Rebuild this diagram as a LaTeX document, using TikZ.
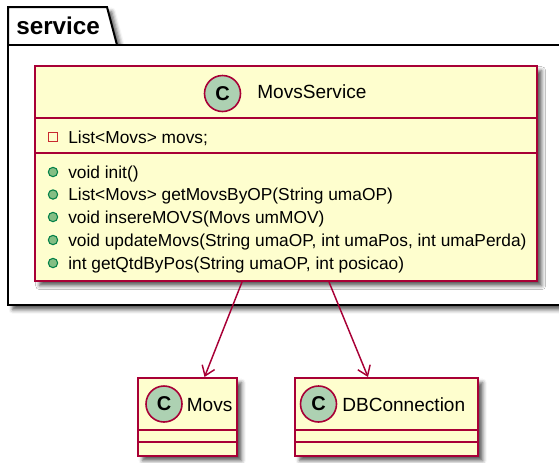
\documentclass[tikz,border=0pt]{standalone}
\usepackage{fontspec}
\setmainfont{Liberation Sans}
\usetikzlibrary{arrows.meta,shadows.blur,calc}

\definecolor{classfill}{HTML}{FEFECE}
\definecolor{classline}{HTML}{A80036}
\definecolor{spotfill}{HTML}{ADD1B2}
\definecolor{pubfill}{HTML}{84BE84}
\definecolor{publine}{HTML}{038048}
\definecolor{privline}{HTML}{C82930}

\begin{document}
\begin{tikzpicture}[x=0.75pt,y=-0.75pt,
  softshadow/.style={blur shadow={shadow xshift=3.5pt, shadow yshift=-3.5pt,
      shadow blur radius=3pt, shadow opacity=65}},
  pkg/.style={draw=black, fill=white, line width=1.5pt, line join=miter, softshadow},
  classbox/.style={draw=classline, fill=classfill, line width=1.5pt,
      inner sep=0pt, softshadow},
  sep/.style={draw=classline, line width=1.5pt},
  spot/.style={circle, draw=classline, fill=spotfill, line width=1.2pt,
      minimum size=27pt, inner sep=0pt, font=\fontsize{15}{15}\selectfont\bfseries},
  cname/.style={anchor=base west, inner sep=0pt, font=\fontsize{14.3}{16}\selectfont},
  member/.style={anchor=base west, inner sep=0pt, font=\fontsize{13}{15}\selectfont},
  pubicon/.style={circle, draw=publine, fill=pubfill, line width=0.8pt,
      minimum size=7pt, inner sep=0pt},
  privicon/.style={rectangle, draw=privline, line width=0.9pt,
      minimum size=6.5pt, inner sep=0pt},
  dep/.style={draw=classline, line width=1.1pt,
      -{Straight Barb[length=7pt,width=10pt,line width=1.1pt]}}
]
\useasboundingbox (0,0) rectangle (559,462);
\clip (0,0) rectangle (559,462);

% package "service"
\path[pkg] (8,45) -- (8,7) -- (107,7) -- (117,45) -- cycle;
\path[pkg] (8,45) rectangle (570,305);
\node[anchor=base west, inner sep=0pt, font=\fontsize{18.2}{20}\selectfont\bfseries]
  (pkgname) at (16,34) {service};

% class MovsService
\node[classbox, minimum width=376.5pt, minimum height=161.25pt]
  (svc) at (286,173.5) {};
\draw[sep] (svc.west |- 0,118) -- (svc.east |- 0,118);
\draw[sep] (svc.west |- 0,153) -- (svc.east |- 0,153);
\node[spot] (svcspot) at (222.5,93.5) {C};
\node[cname] (svcname) at (257,98.5) {MovsService};

\node[privicon] (a1i) at (53,137) {};
\node[member] (a1) at (68,143) {List<Movs> movs;};

\node[pubicon] (m1i) at (53,172) {};
\node[member] (m1) at (68,178) {void init()};
\node[pubicon] (m2i) at (53,194.5) {};
\node[member] (m2) at (68,200.5) {List<Movs> getMovsByOP(String umaOP)};
\node[pubicon] (m3i) at (53,217) {};
\node[member] (m3) at (68,223) {void insereMOVS(Movs umMOV)};
\node[pubicon] (m4i) at (53,240) {};
\node[member] (m4) at (68,246) {void updateMovs(String umaOP, int umaPos, int umaPerda)};
\node[pubicon] (m5i) at (53,263) {};
\node[member] (m5) at (68,269) {int getQtdByPos(String umaOP, int posicao)};

% class Movs
\node[classbox, minimum width=74.25pt, minimum height=58.5pt]
  (movs) at (187.5,417) {};
\draw[sep] (movs.west |- 0,430) -- (movs.east |- 0,430);
\draw[sep] (movs.west |- 0,442) -- (movs.east |- 0,442);
\node[spot] (movsspot) at (164,404) {C};
\node[cname] (movsname) at (186.5,411.5) {Movs};

% class DBConnection
\node[classbox, minimum width=137.25pt, minimum height=58.5pt]
  (dbc) at (386.5,417) {};
\draw[sep] (dbc.west |- 0,430) -- (dbc.east |- 0,430);
\draw[sep] (dbc.west |- 0,442) -- (dbc.east |- 0,442);
\node[spot] (dbcspot) at (318.5,404) {C};
\node[cname] (dbcname) at (342,411.5) {DBConnection};

% dependencies
\draw[dep] ($(svc.south)+(-44,0)$) -- ($(movs.north)+(17,0)$);
\draw[dep] ($(svc.south)+(43,0)$) -- ($(dbc.north)+(-18.5,0)$);
\end{tikzpicture}
\end{document}
